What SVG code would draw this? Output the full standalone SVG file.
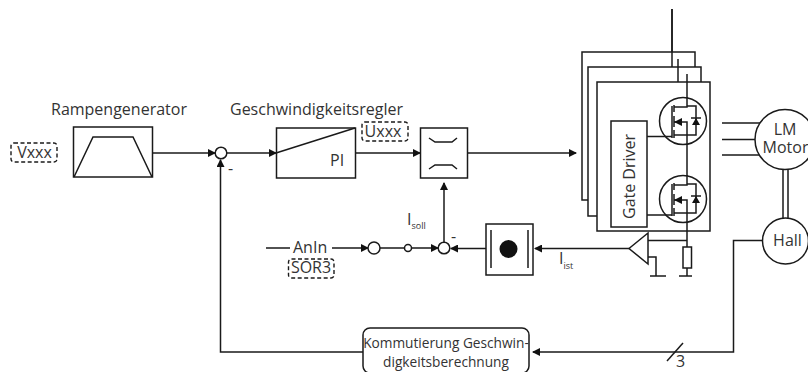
<svg xmlns="http://www.w3.org/2000/svg" width="808" height="372" viewBox="0 0 808 372">
<style>
text{font-family:"Open Sans","Noto Sans","Liberation Sans",sans-serif;fill:#333;font-size:16px}
.l{fill:none;stroke:#1a1a1a;stroke-width:1.5}
.b{fill:#fff;stroke:#1a1a1a;stroke-width:1.5}
.d{fill:none;stroke:#1a1a1a;stroke-width:1.4;stroke-dasharray:4 2.5}
.k{fill:#111;stroke:none}
.sub{font-size:9px}
.s{font-size:13.700px}
</style>
<defs>
<marker id="a" markerUnits="userSpaceOnUse" markerWidth="8" markerHeight="8" refX="7" refY="4" orient="auto"><path d="M0 0L8 4L0 8Z" fill="#111"/></marker>
<g id="fet"><circle cx="0" cy="0" r="23.500" class="b"/><path class="l" d="M-11-15V17M-9-16V-9M-9-5V6M-9 9V17M-9-14H4V-15H13V14H4M-9 1H4V14M-9 14H4M4-15V-24M4 14V24M8-3H18"/><path class="k" d="M-9 1L-1-3V5ZM13-3L9 4H17Z"/></g>
</defs>
<g id="connectors">
<path class="l" d="M152 153H215" marker-end="url(#a)"/>
<path class="l" d="M227 153H276" marker-end="url(#a)"/>
<path class="l" d="M355 153H420" marker-end="url(#a)"/>
<path class="l" d="M467 153H576" marker-end="url(#a)"/>
<path class="l" d="M363 352H220.500V160" marker-end="url(#a)"/>
<path class="l" d="M266 248H290M332 248H368" marker-end="url(#a)"/>
<path class="l" d="M380 248H404.500M411.500 248H438" marker-end="url(#a)"/>
<path class="l" d="M444 242V183" marker-end="url(#a)"/>
<path class="l" d="M486 248.500H451" marker-end="url(#a)"/>
<path class="l" d="M629 248.500H535" marker-end="url(#a)"/>
<path class="l" d="M763 240.500H733.500V352H533" marker-end="url(#a)"/>
<path class="l" d="M667 361L683 343"/>
<path class="l" d="M722 123H760M722 139.500H757M722 155H760M783 169V218M788 169V218"/>
</g>
<g id="rampe"><text x="51" y="115">Rampengenerator</text><rect class="b" x="73.500" y="127" width="79" height="50"/><path class="l" d="M74 177L93 137H133L152 177"/></g>
<g id="vxxx"><rect class="d" x="11" y="143" width="46" height="19" rx="3"/><text x="34.500" y="158" text-anchor="middle">Vxxx</text></g>
<g id="sum1"><circle class="b" cx="221" cy="153" r="5.800"/><text x="228" y="174">-</text></g>
<g id="pi"><text x="230" y="115">Geschwindigkeitsregler</text><rect class="b" x="276.500" y="128" width="79" height="50"/><path class="l" d="M276 153L355 128"/><text x="330" y="166">PI</text></g>
<g id="uxxx"><rect class="d" x="362" y="122" width="46" height="19" rx="3"/><text x="383" y="137" text-anchor="middle">Uxxx</text></g>
<g id="limit"><rect class="b" x="420.500" y="128" width="47" height="50"/><path class="l" d="M429 138L435 142H452L457 138M429 169L435 165H452L457 169"/></g>
<g id="anin"><text x="293" y="253">AnIn</text><rect class="d" x="288.500" y="259" width="45.500" height="19" rx="3"/><text x="311" y="272.500" text-anchor="middle">SOR3</text></g>
<g id="c1"><circle class="b" cx="374" cy="248" r="6"/></g>
<g id="c2"><circle class="b" cx="408" cy="248" r="3.500"/></g>
<g id="sum2"><circle class="b" cx="444" cy="248" r="5.800"/><text x="451" y="242">-</text><text x="407" y="225">I<tspan class="sub" dy="4">soll</tspan></text></g>
<g id="strom"><rect class="b" x="486" y="224" width="47" height="51"/><path class="l" d="M491 230V268M528 230V268"/><circle class="k" cx="508.500" cy="249" r="9"/><text x="559" y="264">I<tspan class="sub" dy="5">ist</tspan></text></g>
<g id="stack">
<path class="l" d="M672 9V67M678 59V82"/>
<rect class="b" x="582" y="52" width="113" height="148"/>
<rect class="b" x="588" y="67" width="113" height="149"/>
<rect class="b" x="597" y="82" width="113" height="149"/>
<path class="l" d="M672 9V67M678 59V82M687 74V276"/>
<use href="#fet" x="683" y="121"/>
<use href="#fet" x="683" y="199"/>
<rect class="b" x="611" y="121" width="36" height="106"/>
<text transform="translate(635 219) rotate(-90)">Gate Driver</text>
<path class="l" d="M647 136.500H672M647 215H672"/>
</g>
<g id="amp"><path class="b" d="M629 248.500L648 233V264Z"/><path class="l" d="M648 240.500H687M648 257H656V276M650 276H666"/><rect class="b" x="683" y="247" width="8.500" height="21"/><path class="l" d="M679 276H692"/></g>
<g id="motor"><circle class="b" cx="785" cy="139.500" r="30"/><text x="785" y="135" text-anchor="middle">LM</text><text x="785.500" y="153" text-anchor="middle">Motor</text></g>
<g id="hall"><circle class="b" cx="785.500" cy="241" r="23"/><text x="787.500" y="245.500" text-anchor="middle">Hall</text></g>
<g id="komm"><rect class="b" x="363" y="328" width="166" height="45" rx="7"/><text class="s" x="446" y="348" text-anchor="middle">Kommutierung Geschwin-</text><text class="s" x="446" y="367" text-anchor="middle">digkeitsberechnung</text></g>
<text x="676" y="367">3</text>
</svg>
